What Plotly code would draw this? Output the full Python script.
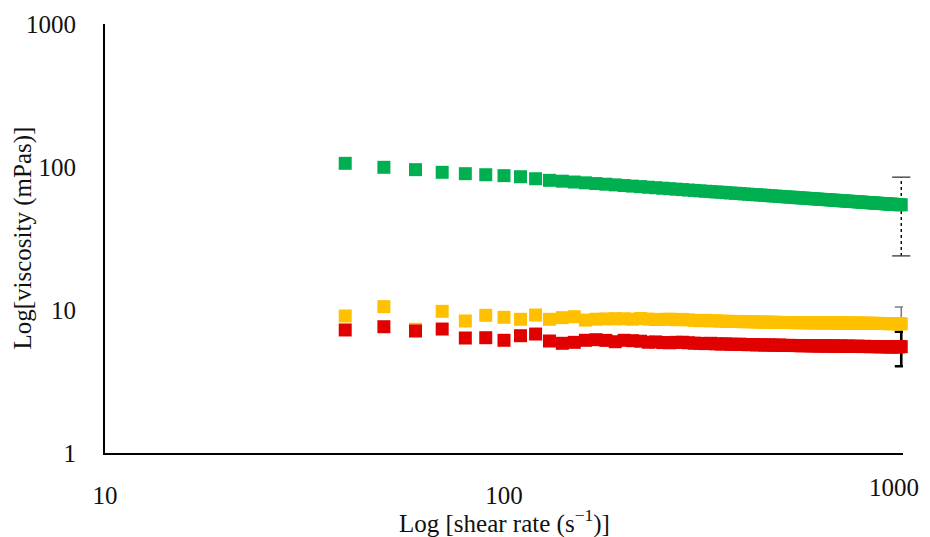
import plotly.graph_objects as go

# Shear rate (s^-1): 40 to 990 in steps of 10
shear_rate = list(range(40, 1000, 10))

green_visc = [
    106.1, 99.5, 95.8, 91.8, 89.8, 88.3, 87.0, 85.5, 82.8,
    80.7, 79.6, 78.5, 77.5, 76.6, 75.8, 75.0, 74.2, 73.5, 72.9,
    72.2, 71.6, 71.1, 70.5, 70.0, 69.5, 69.0, 68.6, 68.1, 67.7,
    67.3, 66.9, 66.6, 66.2, 65.8, 65.5, 65.2, 64.8, 64.5, 64.2,
    63.9, 63.7, 63.4, 63.1, 62.8, 62.6, 62.3, 62.1, 61.8, 61.6,
    61.4, 61.1, 60.9, 60.7, 60.5, 60.3, 60.1, 59.9, 59.7, 59.5,
    59.3, 59.2, 59.0, 58.8, 58.6, 58.5, 58.3, 58.1, 58.0, 57.8,
    57.7, 57.5, 57.4, 57.2, 57.1, 56.9, 56.8, 56.6, 56.5, 56.4,
    56.2, 56.1, 56.0, 55.8, 55.7, 55.6, 55.5, 55.4, 55.2, 55.1,
    55.0, 54.9, 54.8, 54.7, 54.6, 54.5, 54.4,
]

yellow_visc = [
    9.08, 10.55, 7.33, 9.79, 8.38, 9.18, 8.89, 8.61, 9.23,
    8.61, 8.84, 8.98, 8.50, 8.62, 8.66, 8.70, 8.68, 8.62, 8.72,
    8.64, 8.58, 8.60, 8.63, 8.55, 8.60, 8.52, 8.47, 8.42, 8.46,
    8.40, 8.41, 8.36, 8.34, 8.31, 8.33, 8.30, 8.28, 8.29, 8.26,
    8.25, 8.24, 8.22, 8.23, 8.20, 8.21, 8.19, 8.18, 8.18, 8.17,
    8.16, 8.17, 8.15, 8.15, 8.14, 8.15, 8.13, 8.14, 8.13, 8.12,
    8.13, 8.12, 8.14, 8.13, 8.12, 8.11, 8.12, 8.11, 8.10, 8.11,
    8.10, 8.09, 8.10, 8.09, 8.08, 8.09, 8.08, 8.07, 8.08, 8.07,
    8.06, 8.07, 8.06, 8.05, 8.06, 8.05, 8.04, 8.05, 8.04, 8.03,
    8.04, 8.03, 8.02, 8.03, 8.02, 8.01, 8.00,
]

red_visc = [
    7.25, 7.64, 7.13, 7.36, 6.37, 6.40, 6.14, 6.61, 6.79,
    6.07, 5.85, 5.94, 6.14, 6.20, 6.13, 6.00, 6.14, 6.10, 6.05,
    5.95, 5.98, 5.92, 5.90, 5.94, 5.95, 5.90, 5.86, 5.84, 5.82,
    5.85, 5.80, 5.78, 5.80, 5.76, 5.75, 5.77, 5.74, 5.72, 5.73,
    5.70, 5.71, 5.69, 5.70, 5.68, 5.67, 5.69, 5.66, 5.65, 5.66,
    5.64, 5.65, 5.63, 5.62, 5.64, 5.63, 5.61, 5.62, 5.60, 5.61,
    5.62, 5.60, 5.59, 5.61, 5.60, 5.58, 5.59, 5.60, 5.58, 5.57,
    5.59, 5.58, 5.56, 5.57, 5.58, 5.56, 5.55, 5.57, 5.56, 5.55,
    5.54, 5.56, 5.55, 5.54, 5.55, 5.53, 5.54, 5.55, 5.53, 5.54,
    5.52, 5.53, 5.54, 5.52, 5.53, 5.54, 5.54,
]

# Error (+/-) at the last shear rate
green_err = 30.5
yellow_err = 2.5
red_err = 1.5

x_tick_vals = [10, 100, 1000]
x_tick_text = ["10", "100", "1000"]
y_tick_vals = [1, 10, 100, 1000]
y_tick_text = ["1", "10", "100", "1000"]

FONT = "Liberation Serif"
FSIZE = 25
TXT = "#111111"
GREEN = "#00B050"
YELLOW = "#FFC000"
RED = "#E00000"

fig = go.Figure()

x_last = shear_rate[-1]

# Green error bar (dotted)
fig.add_trace(go.Scatter(
    x=[x_last, x_last], y=[green_visc[-1] - green_err, green_visc[-1] + green_err],
    mode="lines", line=dict(color="black", width=1.4, dash="dot"),
    hoverinfo="skip", showlegend=False, cliponaxis=False))
fig.add_trace(go.Scatter(
    x=[x_last, x_last], y=[green_visc[-1] - green_err, green_visc[-1] + green_err],
    mode="markers", marker=dict(symbol="line-ew", size=13, line=dict(color="#444444", width=1.4)),
    hoverinfo="skip", showlegend=False, cliponaxis=False))

# Yellow error bar (grey)
fig.add_trace(go.Scatter(
    x=[x_last], y=[yellow_visc[-1]], mode="markers",
    marker=dict(size=1, opacity=0),
    error_y=dict(type="data", array=[yellow_err], color="#7F7F7F", thickness=1.6, width=6.5),
    hoverinfo="skip", showlegend=False, cliponaxis=False))

# Red error bar (black)
fig.add_trace(go.Scatter(
    x=[x_last], y=[red_visc[-1]], mode="markers",
    marker=dict(size=1, opacity=0),
    error_y=dict(type="data", array=[red_err], color="black", thickness=2.6, width=6.5),
    hoverinfo="skip", showlegend=False, cliponaxis=False))

for vals, col in [(green_visc, GREEN), (yellow_visc, YELLOW), (red_visc, RED)]:
    fig.add_trace(go.Scatter(
        x=shear_rate, y=vals, mode="markers",
        marker=dict(symbol="square", size=13, color=col, line=dict(width=0)),
        showlegend=False, cliponaxis=False))

# page body has an 8px margin
fig.update_layout(
    width=922, height=529,
    margin=dict(l=97, r=27, t=16, b=84, autoexpand=False),
    paper_bgcolor="white", plot_bgcolor="white",
    font=dict(family=FONT, size=FSIZE, color=TXT),
    showlegend=False,
)

# the last x tick label would be cut at the window's right edge, so it is
# placed as a right-anchored text label instead of an axis tick label
fig.update_xaxes(
    type="log", range=[1, 3], showgrid=False, zeroline=False,
    showline=True, linecolor="black", linewidth=2.2, mirror=False,
    tickvals=x_tick_vals[:-1], ticktext=x_tick_text[:-1],
    ticks="outside", ticklen=19, tickcolor="rgba(0,0,0,0)",
    tickfont=dict(family=FONT, size=FSIZE, color=TXT),
    automargin=False,
)
fig.update_yaxes(
    type="log", range=[0, 3], showgrid=False, zeroline=False,
    showline=True, linecolor="black", linewidth=2.2, mirror=False,
    tickvals=y_tick_vals, ticktext=y_tick_text,
    ticks="outside", ticklen=22, tickcolor="rgba(0,0,0,0)",
    tickfont=dict(family=FONT, size=FSIZE, color=TXT),
    automargin=False,
)

import math
fig.add_annotation(
    text=x_tick_text[-1], xref="x", yref="paper",
    x=math.log10(x_tick_vals[-1]), y=0, xanchor="right", yanchor="top",
    xshift=18, yshift=-19, showarrow=False,
    font=dict(family=FONT, size=FSIZE, color=TXT))

fig.add_annotation(
    text="Log [shear rate (s<sup>\u22121</sup>)]",
    xref="paper", yref="paper", x=0.5, y=0, xanchor="center", yanchor="middle",
    yshift=-68, showarrow=False, font=dict(family=FONT, size=FSIZE, color=TXT))
fig.add_annotation(
    text="Log[viscosity (mPas)]",
    xref="paper", yref="paper", x=0, y=0.5, xanchor="center", yanchor="middle",
    xshift=-83, textangle=-90, showarrow=False,
    font=dict(family=FONT, size=FSIZE, color=TXT))

fig.write_html("out.html")
